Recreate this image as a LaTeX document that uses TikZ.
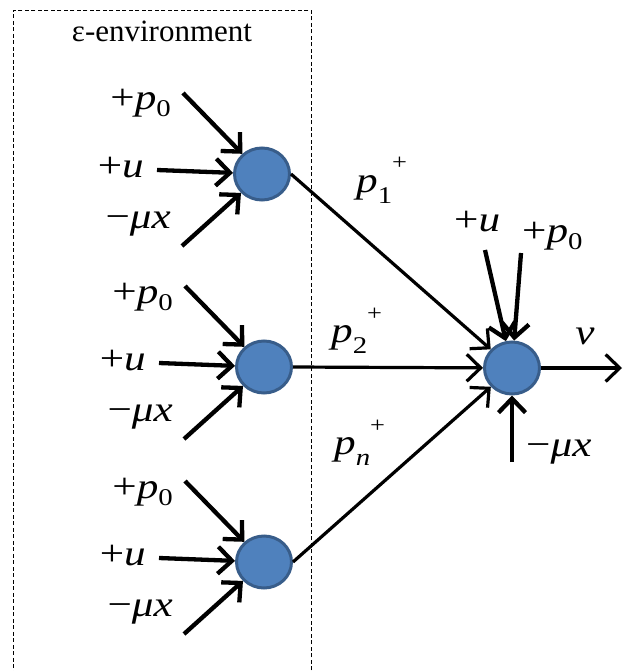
\documentclass[tikz,border=0pt]{standalone}
\usepackage{fontspec}
\usepackage{graphicx}
\setmainfont{Liberation Serif}
\usetikzlibrary{arrows.meta,shapes.geometric}
\definecolor{nfill}{HTML}{4F81BD}
\definecolor{nline}{HTML}{385D8A}
\newcommand\mylab{\fontsize{36}{36}\selectfont}
\newcommand\subsz{\fontsize{24}{24}\selectfont}
\newcommand\widen[1]{\scalebox{1.2}[1]{#1}}
\newcommand\pzero{\textit{p}\raisebox{-7pt}{\subsz 0}}
\newcommand\pplus[1]{\textit{p}\raisebox{-11pt}{\subsz #1}\raisebox{22pt}{\fontsize{22}{22}\selectfont +}}
\begin{document}
\begin{tikzpicture}[x=1pt,y=-1pt,
  neuron/.style={ellipse, minimum width=55pt, minimum height=52pt, inner sep=0pt, fill=nfill, draw=nline, line width=3pt},
  inarrow/.style={line width=4.3pt, -{Straight Barb[length=14pt,width=27pt]}},
  link/.style={line width=3.2pt, -{Straight Barb[length=14pt,width=27pt]}},
  lab/.style={font=\mylab, inner sep=0pt},
  envbox/.style={draw, line width=0.9pt, dash pattern=on 4pt off 2.5pt, inner sep=0pt, minimum width=298pt, minimum height=700pt, anchor=north west}]
\useasboundingbox (0,0) rectangle (623,671);
\clip (0,0) rectangle (623,671);
\node[envbox] (env) at (13,10) {};
\node[font=\fontsize{31}{31}\selectfont, inner sep=0pt, anchor=base] (envlab) at (162,42) {ε-environment};
\foreach \i/\cx/\cy in {1/262/174, 2/264/367, 3/264/562} {
  \node[neuron] (n\i) at (\cx,\cy) {};
  \coordinate (sp\i) at (\cx-79,\cy-81);
  \coordinate (su\i) at (\cx-105,\cy-4);
  \coordinate (sm\i) at (\cx-80,\cy+72);
  \node[lab, anchor=base east] (lp\i) at (\cx-91,\cy-64) {\widen{+\pzero}};
  \node[lab, anchor=base east] (lu\i) at (\cx-118,\cy+3) {\widen{+\textit{u}}};
  \node[lab, anchor=base east] (lm\i) at (\cx-91,\cy+54) {\widen{−\textit{μx}}};
  \draw[inarrow] (sp\i) -- (n\i);
  \draw[inarrow] (su\i) -- (n\i);
  \draw[inarrow] (sm\i) -- (n\i);
}
\node[neuron] (n4) at (512,368) {};
\coordinate (ru) at (485,250);
\coordinate (rp) at (521,253);
\coordinate (rm) at (512,462);
\coordinate (out) at (622,368);
\draw[inarrow] (ru) -- (n4);
\draw[inarrow] (rp) -- (n4);
\draw[inarrow] (rm) -- (n4);
\draw[link] (n4) -- (out);
\draw[link] (n1.east) -- (n4);
\draw[link] (n2.east) -- (n4);
\draw[link] (n3.east) -- (n4);
\node[lab, anchor=base west] (rlu) at (454,231) {\widen{+\textit{u}}};
\node[lab, anchor=base west] (rlp) at (522,242) {\widen{+\pzero}};
\node[lab, anchor=base west] (rlm) at (526,456) {\widen{−\textit{μx}}};
\node[lab, anchor=base] (lv) at (585,344) {\widen{\textit{v}}};
\node[lab, anchor=base west] (lp1) at (356,192) {\widen{\pplus{1}}};
\node[lab, anchor=base west] (lp2) at (331,342) {\widen{\pplus{2}}};
\node[lab, anchor=base west] (lpn) at (334,454) {\widen{\pplus{\textit{n}}}};
\end{tikzpicture}
\end{document}
